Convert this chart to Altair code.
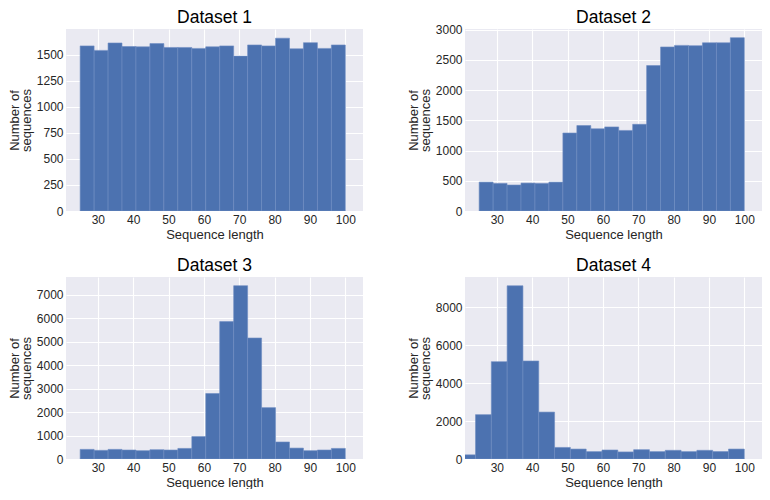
import altair as alt
import numpy as np
import pandas as pd

titles = ["Dataset 1", "Dataset 2", "Dataset 3", "Dataset 4"]

counts1 = [1583, 1540, 1611, 1577, 1574, 1605, 1568, 1568, 1559, 1574,
           1583, 1485, 1592, 1583, 1657, 1555, 1614, 1559, 1592]
counts2 = [478, 457, 430, 462, 457, 478, 1290, 1413, 1360, 1391,
           1333, 1434, 2406, 2714, 2740, 2735, 2783, 2783, 2868]
counts3 = [410, 369, 410, 383, 355, 396, 383, 451, 957, 2789,
           5852, 7383, 5154, 2188, 725, 465, 355, 383, 451]
counts4 = [220, 2339, 5136, 9136, 5169, 2475, 610, 525, 390, 475,
           373, 492, 390, 458, 390, 458, 390, 525]

# histogram ranges (min, max) for each dataset
ranges = [(25, 100), (25, 100), (25, 100), (19.5, 100)]
y_max = [1745, 3011, 7752, 9600]
y_ticks = [
    [0, 250, 500, 750, 1000, 1250, 1500],
    [0, 500, 1000, 1500, 2000, 2500, 3000],
    [0, 1000, 2000, 3000, 4000, 5000, 6000, 7000],
    [0, 2000, 4000, 6000, 8000],
]
x_ticks = [30, 40, 50, 60, 70, 80, 90, 100]
x_domain = [21, 105]
# panel 2's top tick label sits on the top edge, so its title needs less offset
title_offsets = [3, -3, 3, 3]

all_counts = [counts1, counts2, counts3, counts4]

FONT = "Liberation Sans"
TEXT = "#262626"

panels = []
for i, (cnts, (lo, hi)) in enumerate(zip(all_counts, ranges)):
    edges = np.linspace(lo, hi, len(cnts) + 1)
    df = pd.DataFrame({
        "x0": edges[:-1],
        "x1": edges[1:],
        "count": cnts,
    })
    ch = alt.Chart(df).mark_rect(
        color="#4C72B0", stroke="#6f8dc2", strokeWidth=0.6, clip=True
    ).encode(
        x=alt.X("x0:Q", scale=alt.Scale(domain=x_domain, nice=False, zero=False),
                axis=alt.Axis(values=x_ticks, title="Sequence length", format="d")),
        x2="x1:Q",
        y=alt.Y("count:Q", scale=alt.Scale(domain=[0, y_max[i]], nice=False),
                axis=alt.Axis(values=y_ticks[i], title=["Number of", "sequences"], format="d")),
        y2=alt.datum(0),
    ).properties(
        width=297, height=182,
        title=alt.Title(titles[i], fontSize=17.5, font=FONT, color="#000000",
                        fontWeight="normal", offset=title_offsets[i], frame="group"),
    )
    panels.append(ch)

chart = alt.concat(
    *panels, columns=2, spacing={"row": 66, "column": 102}, bounds="flush"
).properties(
    padding=0, background="#FFFFFF",
).configure_view(
    fill="#EAEAF2", stroke=None
).configure_axis(
    grid=True, gridColor="#FFFFFF", gridWidth=1.1, domain=False, ticks=False,
    labelFont=FONT, labelFontSize=12, labelColor=TEXT, labelPadding=3,
    titleFont=FONT, titleFontSize=13, titleColor=TEXT, titleFontWeight="normal",
    titlePadding=3, titleLineHeight=12,
).configure_axisX(
    labelPadding=3, titlePadding=3,
)

chart.save("out.html", embed_options={"renderer": "svg", "actions": False})
